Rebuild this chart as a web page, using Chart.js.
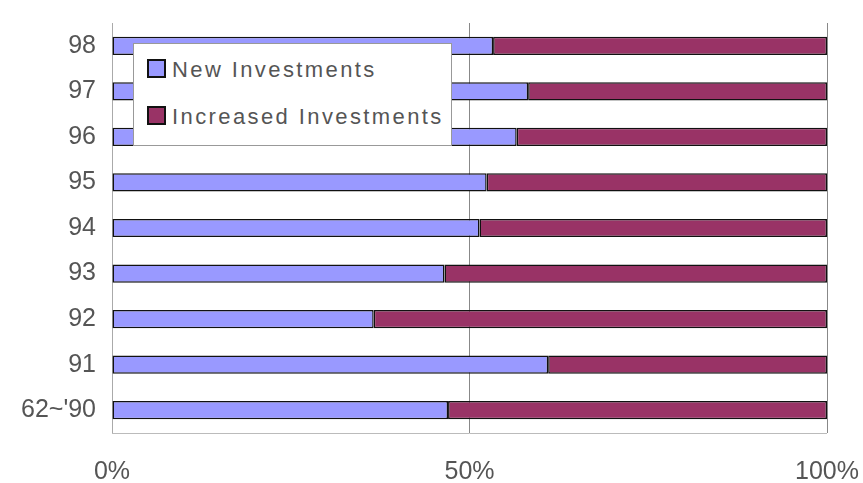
<!DOCTYPE html>
<html>
<head>
<meta charset="utf-8">
<script src="https://cdn.jsdelivr.net/npm/chart.js@4/dist/chart.umd.min.js"></script>
<style>
  html, body { margin: 0; padding: 0; background: #fff; }
  #wrap { position: relative; width: 863px; height: 483px; }
  #leyenda {
    position: absolute; left: 133px; top: 43px; width: 317px; height: 101px;
    background: #fff; border: 1px solid #999;
    font-family: "Liberation Sans", Arial, sans-serif; font-size: 22px; color: #555;
    letter-spacing: 2.4px;
  }
  .item { position: absolute; left: 13px; height: 24px; line-height: 24px; white-space: nowrap; }
  .caja { display: inline-block; width: 15px; height: 15px; border: 2px solid #111; vertical-align: -1px; margin-right: 6px; }
</style>
</head>
<body>
<div id="wrap">
  <canvas id="grafica" width="863" height="483"></canvas>
  <div id="leyenda"></div>
</div>
<script>
// Datos (de arriba hacia abajo)
const anios = ["98", "97", "96", "95", "94", "93", "92", "91", "62~'90"];
const nuevas = [53.3, 58.2, 56.6, 52.4, 51.4, 46.5, 36.6, 61.0, 47.0];
const aumentadas = [46.7, 41.8, 43.4, 47.6, 48.6, 53.5, 63.4, 39.0, 53.0];
const ticksX = [0, 50, 100];

const series = [
  { label: "New Investments", data: nuevas, color: "#9999FF" },
  { label: "Increased Investments", data: aumentadas, color: "#993366" }
];

// Leyenda dentro del área del gráfico
const $leyenda = document.getElementById("leyenda");
series.forEach((s, i) => {
  const div = document.createElement("div");
  div.className = "item";
  div.style.top = (i === 0 ? 14 : 61) + "px";
  div.innerHTML = '<span class="caja" style="background:' + s.color + '"></span>' + s.label;
  $leyenda.appendChild(div);
});

const ctx = document.getElementById("grafica").getContext("2d");
new Chart(ctx, {
  type: "bar",
  data: {
    labels: anios,
    datasets: series.map(s => ({
      label: s.label,
      data: s.data,
      backgroundColor: s.color,
      borderColor: "#111",
      borderWidth: 1.5,
      borderSkipped: false,
      categoryPercentage: 1,
      barPercentage: 0.4
    }))
  },
  options: {
    indexAxis: "y",
    responsive: false,
    animation: false,
    layout: { padding: { top: 23, right: 36, left: 0, bottom: 0 } },
    plugins: { legend: { display: false }, tooltip: { enabled: false } },
    scales: {
      x: {
        stacked: true,
        min: 0,
        max: 100,
        afterBuildTicks: axis => { axis.ticks = ticksX.map(v => ({ value: v })); },
        afterFit: axis => { axis.height = 50; axis.paddingLeft = 0; axis.paddingRight = 0; },
        grid: { color: "#888", lineWidth: 1, drawTicks: false },
        border: { display: false },
        ticks: {
          padding: 24,
          color: "#555",
          font: { family: "Liberation Sans", size: 25 },
          callback: v => v + "%"
        }
      },
      y: {
        stacked: true,
        afterFit: axis => { axis.width = 112; axis.paddingTop = 0; axis.paddingBottom = 0; },
        grid: { display: false, drawTicks: false },
        border: { display: true, color: "#aaa" },
        ticks: {
          padding: 16,
          color: "#555",
          font: { family: "Liberation Sans", size: 25 }
        }
      }
    }
  },
  plugins: [{
    id: "bordeInferior",
    afterDraw(chart) {
      const a = chart.chartArea, c = chart.ctx;
      c.save();
      c.strokeStyle = "#bbb";
      c.lineWidth = 1;
      c.beginPath();
      c.moveTo(a.left, a.bottom + 0.5);
      c.lineTo(a.right, a.bottom + 0.5);
      c.stroke();
      c.restore();
    }
  }]
});
</script>
</body>
</html>
